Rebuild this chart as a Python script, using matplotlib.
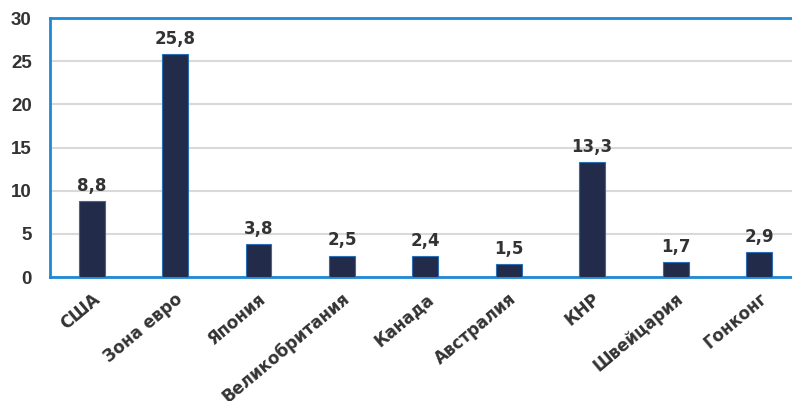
import matplotlib.pyplot as plt
import numpy as np

countries = ['США', 'Зона евро', 'Япония', 'Великобритания', 'Канада',
             'Австралия', 'КНР', 'Швейцария', 'Гонконг']
values = [8.8, 25.8, 3.8, 2.5, 2.4, 1.5, 13.3, 1.7, 2.9]

plt.rcParams['font.family'] = ['Liberation Sans', 'DejaVu Sans']

fig = plt.figure(figsize=(7.92, 4.01), dpi=100)
ax = fig.add_axes([0.063, 0.309, 0.948, 0.646])

x = np.arange(len(countries))
ax.bar(x, values, width=0.31, color='#232b4b', edgecolor='#2a6fb5', linewidth=0.8, zorder=3)

# value labels (the source image is a bit wider than Arial, DejaVu fits better)
for xi, v in zip(x, values):
    ax.text(xi, v + 0.75, f'{v:.1f}'.replace('.', ','), ha='center', va='bottom',
            fontsize=12, fontweight='bold', color='#333333', family='DejaVu Sans')

ax.set_xlim(-0.5, len(countries) - 0.5)
ax.set_ylim(0, 30)
ax.set_yticks(range(0, 31, 5))
ax.yaxis.grid(True, color='#d9d9d9', linewidth=1.5, zorder=0)
ax.set_axisbelow(True)

ax.set_xticks(x)
ax.set_xticklabels(countries, rotation=40, ha='right', rotation_mode='anchor',
                   fontsize=12, fontweight='bold', color='#333333', family='DejaVu Sans')
for lab in ax.get_yticklabels():
    lab.set_fontsize(13.5)
    lab.set_fontweight('bold')
    lab.set_color('#333333')
ax.tick_params(axis='y', length=0, pad=13)
ax.tick_params(axis='x', length=0, pad=9)

for side in ['left', 'top', 'bottom', 'right']:
    ax.spines[side].set_color('#1c8ad4')
    ax.spines[side].set_linewidth(2)

fig.savefig('out.png', dpi=100)
